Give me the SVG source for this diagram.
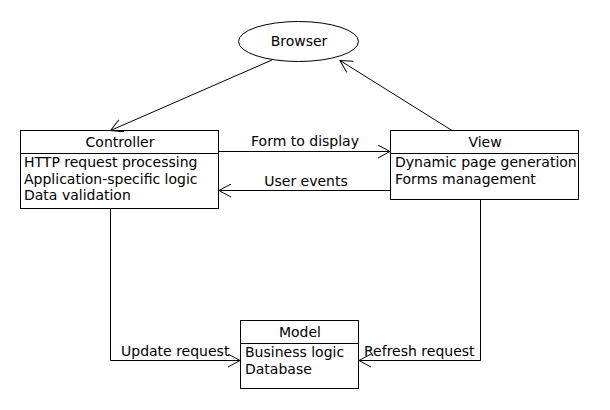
<svg xmlns="http://www.w3.org/2000/svg" width="610" height="410" viewBox="0 0 610 410">
<defs>
<style>
.box{fill:#fff;stroke:#000;stroke-width:1}
.sep{stroke:#000;stroke-width:1}
.t{font-family:"DejaVu Sans",sans-serif;font-size:14px;fill:#000}
.c{text-anchor:middle}
.e{fill:none;stroke:#000;stroke-width:1}
</style>
<marker id="arr" viewBox="-13 -7 14 14" markerWidth="14" markerHeight="14" refX="0" refY="0" markerUnits="userSpaceOnUse" orient="auto">
<path d="M-12,-6.5 L0,0 L-12,6.5" fill="none" stroke="#000" stroke-width="1"/>
</marker>
</defs>
<rect width="610" height="410" fill="#fff"/>
<g id="browser">
<ellipse class="box" cx="298.5" cy="41.5" rx="60" ry="20"/>
<text class="t c" x="299" y="46">Browser</text>
</g>
<g id="controller">
<rect class="box" x="20.5" y="130.5" width="198" height="78"/>
<line class="sep" x1="20.5" y1="153.5" x2="218.5" y2="153.5"/>
<text class="t c" x="120" y="147">Controller</text>
<text class="t" x="24" y="167">HTTP request processing</text>
<text class="t" x="24" y="184">Application-specific logic</text>
<text class="t" x="24" y="200">Data validation</text>
</g>
<g id="view">
<rect class="box" x="390.5" y="130.5" width="188" height="69"/>
<line class="sep" x1="390.5" y1="153.5" x2="578.5" y2="153.5"/>
<text class="t c" x="485" y="147">View</text>
<text class="t" x="395" y="167">Dynamic page generation</text>
<text class="t" x="395" y="184">Forms management</text>
</g>
<g id="model">
<rect class="box" x="240.5" y="320.5" width="118" height="68"/>
<line class="sep" x1="240.5" y1="343.5" x2="358.5" y2="343.5"/>
<text class="t c" x="300" y="337">Model</text>
<text class="t" x="245" y="357">Business logic</text>
<text class="t" x="245" y="374">Database</text>
</g>
<g id="connectors">
<line class="e" x1="272" y1="60" x2="110.5" y2="130.5" marker-end="url(#arr)"/>
<line class="e" x1="452" y1="130.5" x2="340" y2="60.5" marker-end="url(#arr)"/>
<line class="e" x1="219" y1="151.5" x2="390" y2="151.5" marker-end="url(#arr)"/>
<text class="t c" x="305" y="146">Form to display</text>
<line class="e" x1="390" y1="190.5" x2="219" y2="190.5" marker-end="url(#arr)"/>
<text class="t c" x="306" y="186">User events</text>
<polyline class="e" points="110.5,209 110.5,360.5 240,360.5" marker-end="url(#arr)"/>
<text class="t" x="121" y="356">Update request</text>
<polyline class="e" points="480.5,200 480.5,360.5 359,360.5" marker-end="url(#arr)"/>
<text class="t" x="364" y="356">Refresh request</text>
</g>
</svg>
